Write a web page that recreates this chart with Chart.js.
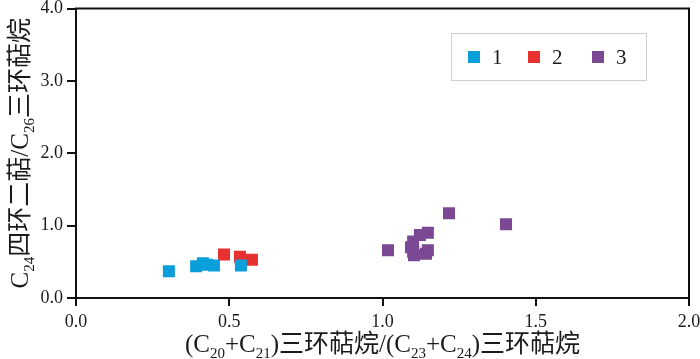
<!DOCTYPE html>
<html>
<head>
<meta charset="utf-8">
<script src="https://cdn.jsdelivr.net/npm/chart.js@4/dist/chart.umd.min.js"></script>
<style>
  html, body { margin: 0; padding: 0; background: #fff; }
  #wrap { width: 700px; height: 359px; position: relative; }
</style>
</head>
<body>
<div id="wrap"><canvas id="c"></canvas></div>
<script>
// ---- data ----
const seriesNames = ['1', '2', '3'];
const group1X = [0.303, 0.392, 0.414, 0.427, 0.450, 0.538];
const group1Y = [0.37, 0.44, 0.48, 0.46, 0.45, 0.45];
const group2X = [0.483, 0.535, 0.574];
const group2Y = [0.60, 0.57, 0.53];
const group3X = [1.018, 1.093, 1.100, 1.100, 1.103, 1.122, 1.142, 1.148, 1.148, 1.217, 1.403];
const group3Y = [0.66, 0.70, 0.78, 0.64, 0.59, 0.87, 0.61, 0.90, 0.66, 1.17, 1.02];
const xTicks = [0.0, 0.5, 1.0, 1.5, 2.0];
const yTicks = [0.0, 1.0, 2.0, 3.0, 4.0];
// axis titles as runs: [text, isSubscript]
const xTitleRuns = [['(C', 0], ['20', 1], ['+C', 0], ['21', 1], [')三环萜烷/(C', 0], ['23', 1], ['+C', 0], ['24', 1], [')三环萜烷', 0]];
const yTitleRuns = [['C', 0], ['24', 1], ['四环二萜/C', 0], ['26', 1], ['三环萜烷', 0]];

const colors = ['#0a9edb', '#e6312e', '#7b4893'];
const FONT = '"Liberation Serif", "Noto Sans CJK SC", serif';

function pts(xs, ys) { return xs.map((x, i) => ({ x: x, y: ys[i] })); }

function drawRuns(ctx, runs, cx, cy, size) {
  const subSize = Math.round(size * 0.6);
  let total = 0;
  const widths = runs.map(r => {
    ctx.font = (r[1] ? subSize : size) + 'px ' + FONT;
    const w = ctx.measureText(r[0]).width;
    total += w;
    return w;
  });
  let x = cx - total / 2;
  ctx.textAlign = 'left';
  ctx.textBaseline = 'alphabetic';
  runs.forEach((r, i) => {
    ctx.font = (r[1] ? subSize : size) + 'px ' + FONT;
    ctx.fillText(r[0], x, cy + (r[1] ? size * 0.22 : 0));
    x += widths[i];
  });
}

const decor = {
  id: 'decor',
  afterDraw(chart) {
    const ctx = chart.ctx;
    const a = chart.chartArea;
    ctx.save();
    // frame
    ctx.strokeStyle = '#111';
    ctx.lineWidth = 2;
    ctx.strokeRect(a.left, a.top, a.right - a.left, a.bottom - a.top);
    // legend box
    ctx.strokeStyle = '#cfcfcf';
    ctx.lineWidth = 1;
    ctx.strokeRect(451.5, 33.5, 195, 47);
    const itemX = [474, 534, 598];
    const cyL = 57;
    seriesNames.forEach((n, i) => {
      ctx.fillStyle = colors[i];
      ctx.fillRect(itemX[i] - 6, cyL - 6, 12, 12);
      ctx.fillStyle = '#1a1a1a';
      ctx.font = '21px ' + FONT;
      ctx.textAlign = 'left';
      ctx.textBaseline = 'middle';
      ctx.fillText(n, itemX[i] + 18, cyL + 1);
    });
    // x title
    ctx.fillStyle = '#1a1a1a';
    drawRuns(ctx, xTitleRuns, (a.left + a.right) / 2, 352, 25);
    // y title
    ctx.save();
    ctx.translate(28, (a.top + a.bottom) / 2);
    ctx.rotate(-Math.PI / 2);
    drawRuns(ctx, yTitleRuns, 0, 0, 25);
    ctx.restore();
    ctx.restore();
  }
};

const mk = (i, xs, ys) => ({
  label: seriesNames[i],
  data: pts(xs, ys),
  pointStyle: 'rect',
  pointRadius: 8.5,
  pointHoverRadius: 8.5,
  backgroundColor: colors[i],
  borderColor: colors[i],
  borderWidth: 0
});

new Chart(document.getElementById('c'), {
  type: 'scatter',
  data: {
    datasets: [mk(0, group1X, group1Y), mk(1, group2X, group2Y), mk(2, group3X, group3Y)]
  },
  options: {
    responsive: true,
    maintainAspectRatio: false,
    animation: false,
    layout: { padding: { top: 5, right: 11, left: 0, bottom: 0 } },
    plugins: { legend: { display: false }, tooltip: { enabled: false }, title: { display: false } },
    scales: {
      x: {
        type: 'linear', min: 0, max: 2,
        afterBuildTicks: s => { s.ticks = xTicks.map(v => ({ value: v })); },
        afterFit: s => { s.height = 61; s.paddingRight = 0; s.paddingLeft = 0; },
        ticks: { callback: v => Number(v).toFixed(1), color: '#1a1a1a', font: { family: FONT, size: 18 }, padding: 5, maxRotation: 0, autoSkip: false },
        grid: { drawOnChartArea: false, drawTicks: true, tickLength: 8, color: '#111', lineWidth: 2 },
        border: { display: true, color: '#111', width: 2 }
      },
      y: {
        type: 'linear', min: 0, max: 4,
        afterBuildTicks: s => { s.ticks = yTicks.map(v => ({ value: v })); },
        afterFit: s => { s.width = 76; s.paddingTop = 0; s.paddingBottom = 0; },
        ticks: { callback: v => Number(v).toFixed(1), color: '#1a1a1a', font: { family: FONT, size: 18 }, padding: 4, autoSkip: false },
        grid: { drawOnChartArea: false, drawTicks: true, tickLength: 9, color: '#111', lineWidth: 2 },
        border: { display: true, color: '#111', width: 2 }
      }
    }
  },
  plugins: [decor]
});
</script>
</body>
</html>
